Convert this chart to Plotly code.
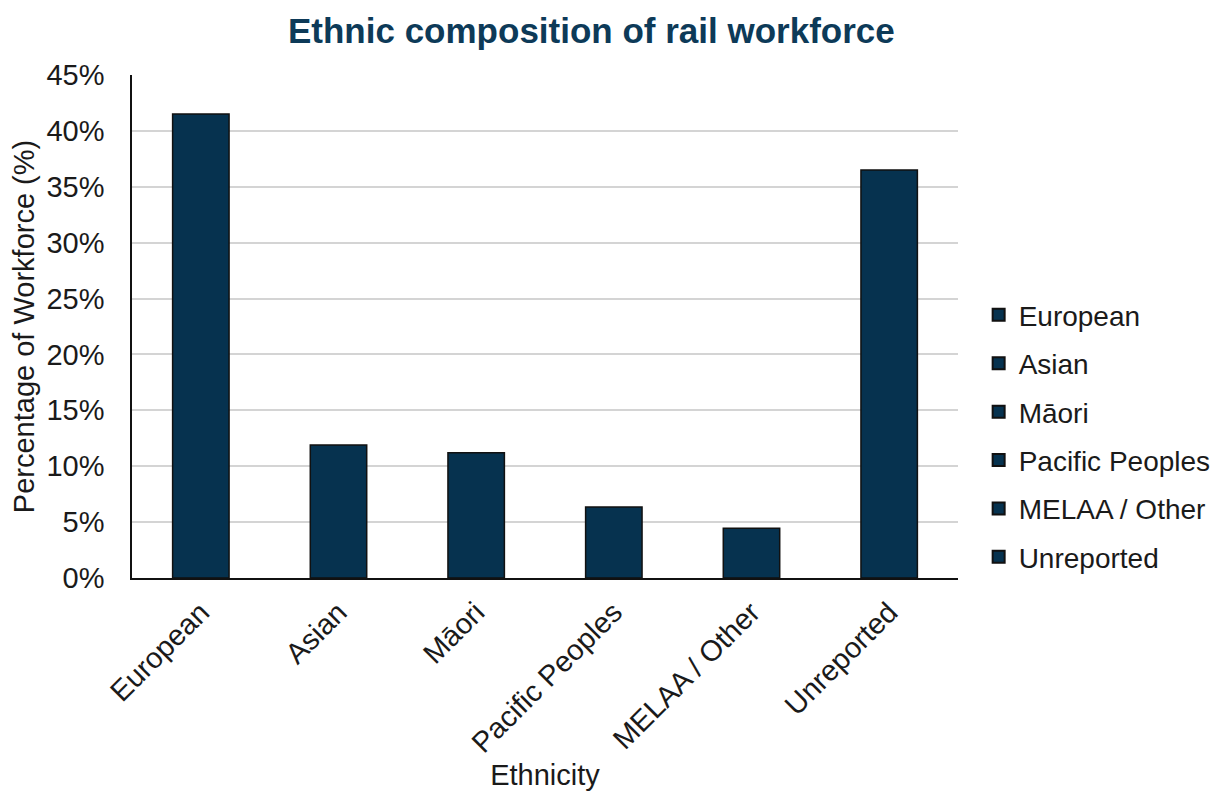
import plotly.graph_objects as go

categories = ["European", "Asian", "Māori", "Pacific Peoples", "MELAA / Other", "Unreported"]
values = [41.5, 11.9, 11.2, 6.35, 4.45, 36.5]

bar_color = "#06324F"
font_family = "Arial, Liberation Sans, sans-serif"

fig = go.Figure()
for cat, val in zip(categories, values):
    fig.add_trace(go.Bar(
        x=[cat], y=[val / 100], name=cat,
        marker=dict(color=bar_color, line=dict(color="#111111", width=1.5)),
        width=0.41, offsetgroup="a", legendgroup=cat,
        showlegend=True,
    ))

fig.update_layout(
    width=1223, height=798,
    paper_bgcolor="white", plot_bgcolor="white",
    margin=dict(l=119, r=273, t=67, b=228),
    barmode="overlay",
    font=dict(family=font_family, color="#1a1a1a", size=28),
    title=dict(text="<b>Ethnic composition of rail workforce</b>", x=0.477, xanchor="center",
               xref="container", y=0.972, yanchor="middle", yref="container",
               font=dict(size=35, color="#0D3A58", family=font_family)),
    legend=dict(x=1.025, xanchor="left", y=0.282, yanchor="middle",
                font=dict(size=28, color="#1a1a1a"), tracegroupgap=9,
                itemsizing="constant", bgcolor="rgba(0,0,0,0)"),
    xaxis=dict(categoryorder="array", categoryarray=categories, tickangle=-45,
               showline=True, linecolor="#111111", linewidth=1.5, ticks="",
               ticklabelstandoff=4,
               tickfont=dict(size=29, color="#1a1a1a"),
               title=dict(text="Ethnicity", font=dict(size=29, color="#1a1a1a"), standoff=6),
               showgrid=False, zeroline=False),
    yaxis=dict(range=[0, 0.45], dtick=0.05, tickformat=".0%",
               showline=True, linecolor="#111111", linewidth=1.5,
               gridcolor="#D4D4D4", gridwidth=1.5, zeroline=False, ticks="",
               ticklabelstandoff=20,
               tickfont=dict(size=29, color="#1a1a1a"),
               title=dict(text="Percentage of Workforce (%)", font=dict(size=29, color="#1a1a1a"), standoff=6)),
)

fig.write_html("out.html")
